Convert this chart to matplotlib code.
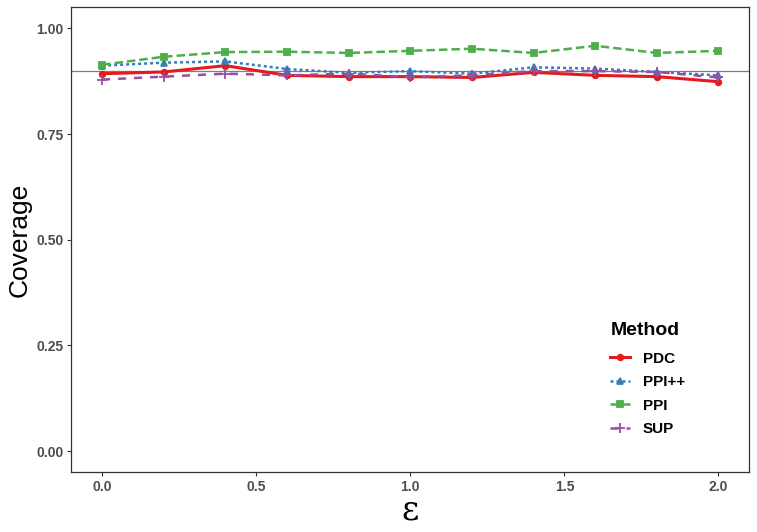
import numpy as np
import matplotlib.pyplot as plt
from matplotlib.lines import Line2D

plt.rcParams["font.family"] = ["Liberation Sans", "DejaVu Sans"]

eps = [0.0, 0.2, 0.4, 0.6, 0.8, 1.0, 1.2, 1.4, 1.6, 1.8, 2.0]
pdc = [0.893, 0.897, 0.912, 0.889, 0.886, 0.886, 0.884, 0.896, 0.889, 0.886, 0.874]
ppipp = [0.912, 0.919, 0.922, 0.904, 0.895, 0.899, 0.893, 0.908, 0.905, 0.897, 0.889]
ppi = [0.914, 0.933, 0.944, 0.945, 0.942, 0.947, 0.952, 0.942, 0.959, 0.942, 0.947]
sup = [0.879, 0.886, 0.893, 0.889, 0.893, 0.885, 0.889, 0.899, 0.899, 0.897, 0.884]
target = 0.9

methods = ["PDC", "PPI++", "PPI", "SUP"]
colors = ["#E41A1C", "#377EB8", "#4DAF4A", "#984EA3"]
markers = ["o", "^", "s", "+"]
styles = ["-", (0, (1.2, 1.2)), (0, (3.4, 1.6)), (0, (3.2, 3.2))]
widths = [2.2, 1.8, 1.8, 1.8]

fig = plt.figure(figsize=(7.57, 5.32), dpi=100)
ax = fig.add_axes([0.0942, 0.1122, 0.8956, 0.8741])

ax.axhline(target, color="#7f7f7f", lw=0.9, zorder=1)

handles = []
for vals, name, c, m, ls, lw in zip([pdc, ppipp, ppi, sup], methods, colors, markers, styles, widths):
    ms = 7 if m == "+" else 4
    ax.plot(eps, vals, color=c, marker=m, linestyle=ls, lw=lw, ms=ms, mew=1.3, zorder=3)
    handles.append(Line2D([], [], color=c, marker=m, linestyle=ls, lw=lw, ms=ms, mew=1.3))

ax.set_xlim(-0.1, 2.1)
ax.set_ylim(-0.05, 1.05)
ax.set_xticks([0.0, 0.5, 1.0, 1.5, 2.0])
ax.set_xticklabels(["0.0", "0.5", "1.0", "1.5", "2.0"])
ax.set_yticks([0.0, 0.25, 0.5, 0.75, 1.0])
ax.set_yticklabels(["0.00", "0.25", "0.50", "0.75", "1.00"])
for lab in ax.get_xticklabels() + ax.get_yticklabels():
    lab.set_fontweight("bold")
    lab.set_color("#4D4D4D")
    lab.set_fontsize(10)
ax.tick_params(length=2.75, width=0.8, color="#333333", pad=3)
for s in ax.spines.values():
    s.set_color("#333333")
    s.set_linewidth(0.9)

ax.set_ylabel("Coverage", fontsize=19, labelpad=3)
ax.set_xlabel("ε", fontsize=24, family="DejaVu Serif", labelpad=0)

leg = ax.legend(handles, methods, title="Method", loc="lower left",
                bbox_to_anchor=(0.775, 0.048), frameon=False,
                prop={"weight": "bold", "size": 11}, handlelength=1.3,
                handletextpad=0.8, labelspacing=0.62,
                title_fontproperties={"weight": "bold", "size": 14})
leg._legend_box.align = "left"
leg._legend_box.sep = 9

fig.savefig("out.png", dpi=100)
